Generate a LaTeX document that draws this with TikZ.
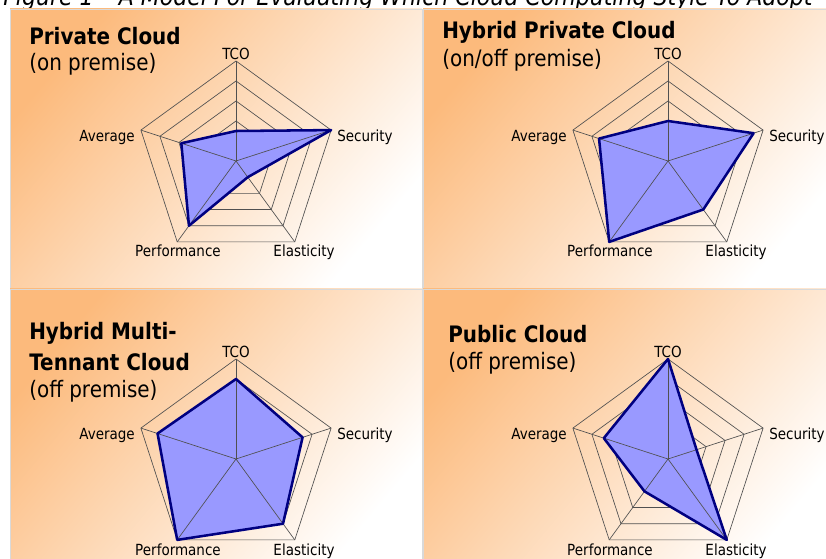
\documentclass[tikz,border=0pt]{standalone}
\usepackage{fontspec}
\setmainfont[FakeStretch=0.88]{DejaVu Sans}
\usepackage{tikz}

\definecolor{fondo}{RGB}{252,186,124}
\definecolor{relleno}{RGB}{153,153,255}
\definecolor{borde}{RGB}{0,0,128}
\definecolor{gris}{RGB}{80,80,80}

\tikzset{
  panel/.style={top color=fondo, bottom color=white, shading angle=50, draw=black!15, line width=0.5pt},
  rejilla/.style={draw=gris, line width=0.5pt},
  area/.style={fill=relleno},
  contorno/.style={draw=borde, line width=1.9pt, line join=round},
  eje/.style={inner sep=0pt, font=\fontsize{11.5}{12}\selectfont},
  titulo/.style={inner sep=0pt, anchor=base west, font=\fontsize{17}{20}\selectfont\bfseries},
  subtitulo/.style={inner sep=0pt, anchor=base west, font=\fontsize{17}{20}\selectfont},
}

% #1 nombre, #2 centro, #3-#7 TCO, Security, Elasticity, Performance, Average
\newcommand{\radar}[7]{%
  \begin{scope}[shift={#2}]
    \foreach \r in {20,40,60,80,100}
      \draw[rejilla] (90:\r) -- (18:\r) -- (-54:\r) -- (-126:\r) -- (162:\r) -- cycle; %Anillos
    \fill[area] (90:#3) -- (18:#4) -- (-54:#5) -- (-126:#6) -- (162:#7) -- cycle; %Area
    \foreach \a in {90,18,-54,-126,162}
      \draw[rejilla] (0,0) -- (\a:100); %Ejes
    \draw[contorno] (90:#3) -- (18:#4) -- (-54:#5) -- (-126:#6) -- (162:#7) -- cycle; %Borde
    \node[eje, anchor=base] (#1-tco) at (0,101) {TCO};
    \node[eje, anchor=base west] (#1-seg) at (101,19) {Security};
    \node[eje, anchor=base] (#1-ela) at (68,-96) {Elasticity};
    \node[eje, anchor=base] (#1-ren) at (-58,-96) {Performance};
    \node[eje, anchor=base east] (#1-pro) at (-101,19) {Average};
  \end{scope}
}

\begin{document}
\begin{tikzpicture}[x=0.75pt, y=0.75pt]
    \useasboundingbox (0,0) rectangle (826,558);

    %Pie de figura (cortado)
    \node[anchor=base west, inner sep=0pt, font=\fontsize{18.8}{20}\selectfont\itshape] (pie) at (3,552)
        {Figure 1 -- A Model For Evaluating Which Cloud Computing Style To Adopt};

    %Paneles
    \shade[panel] (10,270) rectangle (422,549);
    \shade[panel] (423,270) rectangle (840,549);
    \shade[panel] (10,-10) rectangle (422,269);
    \shade[panel] (423,-10) rectangle (840,269);

    %Graficos
    \radar{priv}{(236,397)}{30}{100}{20}{80}{57.5}
    \radar{hpriv}{(668,397)}{40}{90}{60}{100}{72.5}
    \radar{hmulti}{(236,99)}{80}{70}{80}{100}{82.5}
    \radar{pub}{(668,99)}{100}{30}{100}{40}{67.5}

    %Titulos
    \node[titulo] (t1) at (29,513) {Private Cloud};
    \node[subtitulo] (s1) at (29,487) {(on premise)};
    \node[titulo] (t2) at (442,519) {Hybrid Private Cloud};
    \node[subtitulo] (s2) at (442,491) {(on/off premise)};
    \node[titulo] (t3) at (29,218) {Hybrid Multi-};
    \node[titulo] (t3b) at (29,187) {Tennant Cloud};
    \node[subtitulo] (s3) at (29,161) {(off premise)};
    \node[titulo] (t4) at (448,215) {Public Cloud};
    \node[subtitulo] (s4) at (448,188) {(off premise)};
\end{tikzpicture}
\end{document}
